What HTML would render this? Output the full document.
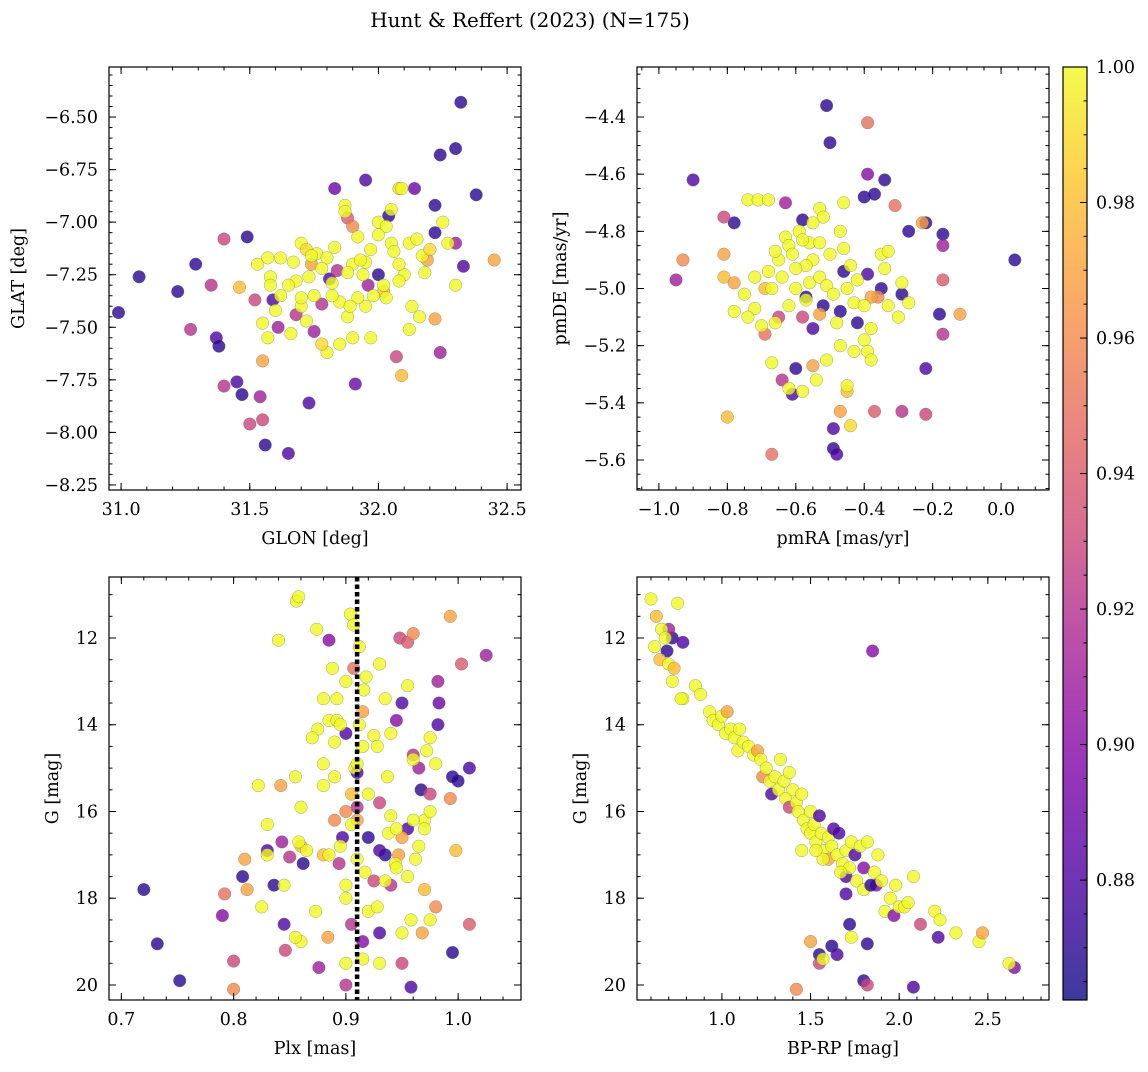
<!DOCTYPE html>
<html><head><meta charset="utf-8"><style>
body{margin:0;background:#fff}
svg{font-family:"DejaVu Serif","Liberation Serif",serif}
</style></head><body>
<svg id="fig" width="1148" height="1067" viewBox="0 0 1148 1067">
<defs><linearGradient id="plasma" x1="0" y1="1" x2="0" y2="0">
<stop offset="0" stop-color="#0d0887"/><stop offset="0.13" stop-color="#4c02a1"/><stop offset="0.25" stop-color="#7e03a8"/><stop offset="0.38" stop-color="#a82296"/><stop offset="0.5" stop-color="#cc4778"/><stop offset="0.63" stop-color="#e66c5c"/><stop offset="0.75" stop-color="#f89540"/><stop offset="0.88" stop-color="#fdc527"/><stop offset="1" stop-color="#f0f921"/></linearGradient></defs>
<text x="530" y="27" text-anchor="middle" font-size="20">Hunt &amp; Reffert (2023) (N=175)</text>
</svg>
<script>
// Panel 1: GLON/GLAT [x, y, prob]
const skyPts = [[30.99,-7.43,0.87],[31.07,-7.26,0.87],[31.22,-7.33,0.87],[31.29,-7.20,0.87],[31.37,-7.55,0.88],[31.38,-7.59,0.87],[31.49,-7.07,0.87],[31.45,-7.76,0.88],[31.47,-7.82,0.87],[31.56,-8.06,0.87],[31.65,-8.10,0.88],[31.73,-7.86,0.88],[31.91,-7.77,0.89],[31.95,-6.80,0.88],[31.83,-6.84,0.89],[32.32,-6.43,0.87],[32.30,-6.65,0.87],[32.24,-6.68,0.87],[32.38,-6.87,0.87],[32.33,-7.21,0.88],[32.22,-7.05,0.87],[32.04,-6.97,0.87],[31.81,-7.27,0.88],[32.14,-6.84,0.89],[32.0,-7.25,0.87],[31.59,-7.37,0.88],[32.22,-6.92,0.87],
[31.40,-7.08,0.93],[31.35,-7.30,0.92],[31.27,-7.51,0.92],[31.40,-7.78,0.92],[31.50,-7.96,0.93],[31.54,-7.83,0.91],[31.55,-7.94,0.93],[31.52,-7.37,0.93],[31.61,-7.50,0.91],[31.75,-7.52,0.91],[31.78,-7.39,0.92],[31.88,-6.98,0.94],[31.96,-7.30,0.91],[32.07,-7.64,0.93],[32.24,-7.62,0.91],[32.30,-7.10,0.91],[31.84,-7.23,0.92],[31.68,-7.44,0.92],
[31.55,-7.66,0.97],[31.46,-7.31,0.98],[32.45,-7.18,0.97],[32.09,-7.73,0.98],[32.22,-7.46,0.97],[31.90,-7.02,0.96],[31.74,-7.20,0.97],[32.19,-7.18,0.97],[32.02,-7.33,0.98],
[31.57,-7.17,1],[31.62,-7.17,1],[31.58,-7.26,1],[31.67,-7.19,1],[31.70,-7.10,1],[31.72,-7.13,0.99],[31.76,-7.15,1],[31.80,-7.17,1],[31.83,-7.12,1],[31.87,-6.92,1],[31.87,-6.95,1],[31.92,-7.07,1],[31.90,-7.20,1],[31.94,-7.25,1],[31.97,-7.13,1],[32.00,-7.00,1],[32.03,-7.02,1],[32.05,-6.94,1],[32.08,-6.84,0.99],[32.09,-6.84,1],[32.12,-7.10,1],[32.15,-7.08,1],[32.17,-7.16,1],[32.20,-7.13,0.99],[32.25,-7.00,1],[32.27,-7.10,1],[32.30,-7.30,1],[32.10,-7.25,1],[32.08,-7.20,1],[32.05,-7.10,1],[32.02,-7.30,1],[31.98,-7.35,1],[31.95,-7.40,1],[31.92,-7.36,1],[31.88,-7.45,1],[31.85,-7.38,1],[31.82,-7.35,1],[31.80,-7.62,1],[31.78,-7.58,0.99],[31.75,-7.35,1],[31.72,-7.47,1],[31.70,-7.40,1],[31.68,-7.28,1],[31.65,-7.30,1],[31.62,-7.35,1],[31.60,-7.42,1],[31.57,-7.55,1],[31.55,-7.48,1],[31.53,-7.20,1],[31.58,-7.30,1],[31.90,-7.55,1],[31.85,-7.58,1],[31.95,-7.19,1],[32.00,-7.06,1],[32.06,-7.14,1],[32.18,-7.24,1],[32.13,-7.40,1],[32.16,-7.45,1],[32.08,-7.28,1],[32.12,-7.51,1],[31.97,-7.55,1],[31.88,-7.24,1],[31.82,-7.29,1],[31.78,-7.22,1],[31.73,-7.26,1],[31.66,-7.53,1],[31.70,-7.36,1],[31.93,-7.18,1],[32.03,-7.36,1],[31.89,-7.40,1],[31.74,-7.16,1]];
// Panel 2: pmRA/pmDE [x, y, prob]
const pmPts = [[-0.51,-4.36,0.87],[-0.50,-4.49,0.87],[-0.90,-4.62,0.88],[-0.78,-4.77,0.87],[-0.58,-4.76,0.87],[-0.40,-4.68,0.87],[-0.37,-4.67,0.87],[-0.34,-4.62,0.87],[-0.22,-4.77,0.87],[-0.27,-4.80,0.87],[-0.17,-4.81,0.87],[0.04,-4.90,0.87],[-0.60,-5.28,0.87],[-0.61,-5.37,0.88],[-0.57,-5.03,0.87],[-0.52,-5.06,0.87],[-0.46,-4.94,0.87],[-0.47,-5.08,0.87],[-0.39,-4.95,0.88],[-0.35,-5.00,0.87],[-0.29,-5.02,0.87],[-0.18,-5.09,0.87],[-0.22,-5.28,0.88],[-0.49,-5.49,0.88],[-0.49,-5.56,0.87],[-0.48,-5.58,0.88],[-0.42,-5.12,0.87],[-0.55,-5.14,0.88],
[-0.95,-4.97,0.91],[-0.81,-4.75,0.93],[-0.63,-4.70,0.91],[-0.39,-4.60,0.90],[-0.17,-4.85,0.91],[-0.17,-4.97,0.94],[-0.17,-5.16,0.92],[-0.64,-5.32,0.92],[-0.58,-5.10,0.93],[-0.29,-5.43,0.92],[-0.22,-5.44,0.93],[-0.67,-5.58,0.95],[-0.37,-5.43,0.94],[-0.65,-5.10,0.93],
[-0.39,-4.42,0.95],[-0.93,-4.90,0.96],[-0.81,-4.88,0.97],[-0.81,-4.96,0.98],[-0.78,-4.98,0.97],[-0.80,-5.45,0.98],[-0.69,-5.16,0.95],[-0.55,-5.27,0.97],[-0.47,-5.43,0.97],[-0.36,-5.03,0.96],[-0.38,-5.03,0.97],[-0.23,-4.77,0.97],[-0.31,-4.71,0.95],[-0.12,-5.09,0.97],[-0.45,-5.36,0.98],[-0.53,-5.09,0.97],[-0.69,-5.00,0.98],
[-0.74,-4.69,1],[-0.71,-4.69,1],[-0.68,-4.69,1],[-0.63,-4.82,1],[-0.62,-4.85,1],[-0.59,-4.80,1],[-0.56,-4.84,1],[-0.53,-4.72,1],[-0.52,-4.75,1],[-0.46,-4.70,1],[-0.47,-4.80,1],[-0.50,-4.88,1],[-0.55,-4.90,1],[-0.57,-4.92,1],[-0.60,-4.93,1],[-0.65,-4.90,1],[-0.68,-4.94,1],[-0.72,-4.96,1],[-0.75,-5.02,1],[-0.72,-5.07,1],[-0.74,-5.10,1],[-0.70,-5.13,1],[-0.66,-5.12,1],[-0.62,-5.06,1],[-0.60,-5.00,1],[-0.56,-4.98,1],[-0.53,-4.96,1],[-0.51,-4.99,1],[-0.49,-5.02,1],[-0.45,-5.00,1],[-0.43,-5.05,1],[-0.40,-5.06,1],[-0.38,-5.14,1],[-0.40,-5.18,1],[-0.43,-5.22,1],[-0.47,-5.20,1],[-0.51,-5.25,1],[-0.54,-5.32,1],[-0.58,-5.36,1],[-0.62,-5.35,1],[-0.67,-5.26,1],[-0.45,-5.34,1],[-0.39,-5.22,1],[-0.38,-5.25,1],[-0.35,-4.88,1],[-0.34,-4.93,1],[-0.33,-5.06,1],[-0.30,-5.10,1],[-0.27,-5.05,1],[-0.29,-4.98,1],[-0.33,-4.87,1],[-0.42,-4.97,1],[-0.46,-4.86,1],[-0.64,-4.96,1],[-0.58,-4.83,1],[-0.55,-4.77,1],[-0.61,-4.88,1],[-0.53,-4.84,1],[-0.57,-5.04,1],[-0.48,-5.12,1],[-0.44,-4.92,1],[-0.67,-5.00,1],[-0.78,-5.08,1],[-0.66,-4.87,1],[-0.44,-5.48,0.99]];
// Panel 3: Plx/G [x, y, prob]
const plxPts = [[0.72,17.8,0.87],[0.732,19.05,0.87],[0.752,19.9,0.87],[0.808,17.5,0.87],[0.83,16.9,0.88],[0.836,17.7,0.87],[0.845,18.6,0.88],[0.862,17.2,0.87],[0.92,16.6,0.87],[0.897,16.6,0.88],[0.967,15.5,0.87],[0.955,16.4,0.88],[0.995,19.25,0.87],[1.0,15.3,0.87],[0.995,15.2,0.87],[1.01,15.0,0.88],[0.982,14.0,0.88],[0.983,13.5,0.89],[0.95,13.5,0.88],[0.93,18.8,0.88],[0.958,20.05,0.88],[0.9,14.2,0.88],[0.91,15.1,0.88],[0.935,17.0,0.87],[0.93,16.9,0.88],
[0.79,18.4,0.90],[0.80,19.45,0.93],[0.843,16.7,0.91],[0.85,17.05,0.92],[0.846,19.2,0.93],[0.876,19.6,0.91],[0.885,12.05,0.90],[0.894,17.2,0.92],[0.9,20.0,0.92],[0.945,13.9,0.90],[0.948,12.0,0.93],[0.96,14.7,0.92],[0.925,17.6,0.93],[0.915,19.0,0.90],[0.982,13.0,0.91],[1.025,12.4,0.91],[1.01,18.6,0.94],[1.003,12.6,0.94],[0.95,19.5,0.93],[0.905,18.6,0.92],[0.965,15.0,0.91],[0.975,15.6,0.93],[0.91,15.9,0.92],[0.93,15.8,0.93],[0.955,12.1,0.94],[0.94,17.7,0.92],
[0.792,17.9,0.95],[0.80,20.1,0.96],[0.81,17.1,0.97],[0.812,17.8,0.97],[0.842,15.4,0.97],[0.884,18.9,0.97],[0.907,12.7,0.95],[0.9,16.0,0.96],[0.89,16.2,0.96],[0.915,13.7,0.97],[0.96,11.9,0.96],[0.968,18.8,0.97],[0.993,11.5,0.97],[0.998,16.9,0.98],[0.98,18.2,0.96],[0.993,15.7,0.96],[0.97,17.8,0.98],[0.947,17.0,0.97],[0.95,16.6,0.97],[0.91,16.2,0.97],[0.905,15.6,0.98],[0.88,17.0,0.98],[0.86,16.8,0.98],
[0.856,11.15,1],[0.858,11.05,1],[0.84,12.05,1],[0.874,11.8,1],[0.888,12.7,1],[0.904,11.45,1],[0.907,11.7,1],[0.912,12.2,1],[0.916,13.2,1],[0.918,12.9,1],[0.93,12.6,1],[0.955,13.1,1],[0.935,13.4,1],[0.892,13.4,1],[0.88,13.4,1],[0.885,13.9,1],[0.892,13.9,1],[0.875,14.1,1],[0.88,14.9,1],[0.89,14.4,1],[0.908,15.0,1],[0.915,14.5,1],[0.925,14.25,1],[0.928,14.5,1],[0.91,14.9,1],[0.937,15.2,1],[0.94,14.2,1],[0.94,16.1,1],[0.938,16.5,1],[0.96,14.8,1],[0.972,14.6,1],[0.975,14.3,1],[0.97,16.2,1],[0.96,16.2,1],[0.965,16.8,1],[0.962,17.1,1],[0.955,17.5,1],[0.944,17.2,1],[0.945,17.3,1],[0.958,18.5,1],[0.975,18.5,1],[0.95,18.8,1],[0.93,19.5,1],[0.915,19.4,1],[0.9,19.5,1],[0.9,18.0,1],[0.9,17.7,1],[0.895,16.8,1],[0.905,16.3,1],[0.88,15.4,1],[0.89,15.2,1],[0.86,15.9,1],[0.855,15.2,1],[0.87,14.3,1],[0.865,16.9,1],[0.858,16.7,1],[0.83,16.3,1],[0.825,18.2,1],[0.86,19.0,1],[0.855,18.9,1],[0.873,18.3,1],[0.885,17.0,1],[0.91,17.1,1],[0.917,17.4,1],[0.92,18.3,1],[0.928,18.2,1],[0.822,15.4,1],[0.845,17.7,1],[0.83,17.0,1],[0.97,16.4,1],[0.975,16.0,1],[0.98,14.9,1],[0.92,15.6,1],[0.895,14.0,1],[0.9,13.0,1],[0.912,14.0,1],[0.935,17.6,1],[0.945,16.4,1]];
const plxMean = [0.910];
// Panel 4: BP-RP/G [x, y, prob]
const cmdPts = [[1.85,12.3,0.90],[1.87,17.7,0.90],[1.72,18.6,0.87],[1.55,19.3,0.87],[1.62,19.1,0.87],[1.65,19.3,0.88],[1.55,19.5,0.93],[1.82,19.05,0.87],[1.8,19.9,0.87],[1.82,20.0,0.93],[2.08,20.05,0.88],[1.5,19.0,0.97],[1.42,20.1,0.96],[1.57,19.4,1],[1.73,18.9,1],[2.65,19.6,0.90],[2.62,19.5,1],[0.72,12.0,0.87],[0.78,12.1,0.88],[0.69,12.3,0.87],[0.70,11.8,0.91],
[0.60,11.1,1],[0.63,11.5,0.98],[0.66,11.8,1],[0.62,12.2,1],[0.65,12.5,0.98],[0.68,12.0,1],[0.70,12.6,1],[0.73,12.7,0.98],[0.72,13.0,1],[0.75,11.2,1],[0.78,13.4,1],[0.77,13.4,1],[0.85,13.1,1],[0.88,13.3,1],[0.93,13.7,1],[0.95,13.9,1],[0.98,14.0,1],[1.0,13.8,1],[1.02,14.2,1],[1.03,13.7,0.97],[1.05,14.1,1],[1.07,14.3,1],[1.09,14.6,1],[1.1,14.1,1],[1.12,14.4,1],[1.15,14.5,1],[1.18,14.7,1],[1.2,14.6,0.97],[1.22,14.8,1],[1.23,15.2,0.96],[1.25,15.0,1],[1.27,15.3,1],[1.28,15.6,0.88],[1.3,15.2,1],[1.32,15.5,1],[1.33,14.8,1],[1.35,15.3,1],[1.36,15.7,1],[1.38,15.9,0.93],[1.38,15.1,1],[1.4,15.5,1],[1.42,15.8,1],[1.43,16.0,1],[1.45,15.6,1],[1.46,16.2,1],[1.48,16.4,1],[1.5,16.0,1],[1.5,16.5,1],[1.52,16.3,1],[1.53,16.7,1],[1.55,16.1,0.88],[1.56,16.5,1],[1.58,16.9,1],[1.6,16.6,1],[1.6,17.1,0.97],[1.62,16.8,1],[1.63,16.4,0.88],[1.65,17.0,1],[1.66,16.5,0.88],[1.68,17.2,1],[1.7,17.5,0.88],[1.7,16.9,1],[1.72,17.3,1],[1.73,16.7,1],[1.75,17.0,0.88],[1.76,17.6,1],[1.78,16.8,1],[1.8,17.3,0.90],[1.8,17.8,1],[1.82,16.7,1],[1.84,17.7,0.87],[1.86,17.4,1],[1.88,17.0,1],[1.9,17.6,1],[1.92,18.3,1],[1.95,18.0,1],[1.97,18.4,0.90],[1.98,17.7,1],[2.0,18.2,1],[2.03,18.2,1],[2.05,18.1,1],[2.08,17.5,1],[2.12,18.6,0.93],[2.2,18.3,1],[2.23,18.5,1],[2.22,18.9,0.88],[2.32,18.8,1],[2.45,19.0,1],[2.47,18.8,0.97],[1.45,16.9,1],[1.57,17.1,1],[1.67,17.4,1],[1.53,16.9,1],[1.7,17.9,0.88]];
// Colorbar
const cbTicks = [0.88,0.90,0.92,0.94,0.96,0.98,1.00];
const cbMin = 0.8623, cbMax = 1.0;

const svg = document.getElementById('fig');
const NS = 'http://www.w3.org/2000/svg';
const FS = 17.5;
function mk(tag, attrs, parent){const e=document.createElementNS(NS,tag);for(const k in attrs)e.setAttribute(k,attrs[k]);(parent||svg).appendChild(e);return e;}
const stops=[[0,[13,8,135]],[0.13,[76,2,161]],[0.25,[126,3,168]],[0.38,[168,34,150]],[0.5,[204,71,120]],[0.63,[230,108,92]],[0.75,[248,149,64]],[0.88,[253,197,39]],[1,[240,249,33]]];
function plasma(p){let t=(p-cbMin)/(cbMax-cbMin);t=Math.max(0,Math.min(1,t));for(let i=1;i<stops.length;i++){if(t<=stops[i][0]){const a=stops[i-1],b=stops[i],f=(t-a[0])/(b[0]-a[0]);return 'rgb('+a[1].map((v,j)=>Math.round(v+(b[1][j]-v)*f)).join(',')+')';}}return 'rgb(240,249,33)';}

function panel(cfg){
  const {x0,x1,y0,y1,xmin,xmax,ymin,ymax,pts,xmaj,xmin_,ymaj,ymin_,xfmt,yfmt,xlabel,ylabel,ylx,name}=cfg;
  const g=mk('g',{});
  
  
  const sx=v=>x0+(v-xmin)/(xmax-xmin)*(x1-x0);
  const sy=v=>y0+(v-ymax)/(ymin-ymax)*(y1-y0);
  const pg=mk('g',{},g);
  
  
  pts.forEach(p=>{const c=mk('circle',{cx:sx(p[0]).toFixed(1),cy:sy(p[1]).toFixed(1),r:6.3,fill:plasma(p[2]),'fill-opacity':0.8,stroke:'#666','stroke-width':0.5,'stroke-opacity':0.6},pg);
    
    });
  if(cfg.vline){const l=mk('line',{x1:sx(cfg.vline),x2:sx(cfg.vline),y1:y0,y2:y1,stroke:'#000','stroke-width':4.5,'stroke-dasharray':'4.5,3'},g);
    
    }
  const fr=mk('rect',{x:x0,y:y0,width:x1-x0,height:y1-y0,fill:'none',stroke:'#000','stroke-width':1.2},g);
  
  
  const lo=Math.min(ymin,ymax),hi=Math.max(ymin,ymax);
  function ticks(step,a,b){const r=[];const s=Math.ceil(a/step-1e-6);for(let i=s;i*step<=b+1e-9;i++)r.push(+(i*step).toFixed(6));return r;}
  ticks(xmin_,xmin,xmax).forEach(v=>{const X=sx(v);mk('line',{x1:X,x2:X,y1:y1,y2:y1-3.5,stroke:'#000'},g);mk('line',{x1:X,x2:X,y1:y0,y2:y0+3.5,stroke:'#000'},g);});
  ticks(xmaj,xmin,xmax).forEach(v=>{const X=sx(v);mk('line',{x1:X,x2:X,y1:y1,y2:y1-7,stroke:'#000'},g);mk('line',{x1:X,x2:X,y1:y0,y2:y0+7,stroke:'#000'},g);
    const t=mk('text',{x:X,y:y1+25,'text-anchor':'middle','font-size':FS},g);t.textContent=xfmt(v);
    
    });
  ticks(ymin_,lo,hi).forEach(v=>{const Y=sy(v);mk('line',{x1:x0,x2:x0+3.5,y1:Y,y2:Y,stroke:'#000'},g);mk('line',{x1:x1,x2:x1-3.5,y1:Y,y2:Y,stroke:'#000'},g);});
  ticks(ymaj,lo,hi).forEach(v=>{const Y=sy(v);mk('line',{x1:x0,x2:x0+7,y1:Y,y2:Y,stroke:'#000'},g);mk('line',{x1:x1,x2:x1-7,y1:Y,y2:Y,stroke:'#000'},g);
    const t=mk('text',{x:x0-11,y:Y+6,'text-anchor':'end','font-size':FS},g);t.textContent=yfmt(v);
    
    });
  const xl=mk('text',{x:(x0+x1)/2,y:y1+54,'text-anchor':'middle','font-size':FS},g);xl.textContent=xlabel;
  
  
  const yl=mk('text',{x:ylx,y:(y0+y1)/2,'text-anchor':'middle','font-size':FS,transform:`rotate(-90 ${ylx} ${(y0+y1)/2})`},g);yl.textContent=ylabel;
  
  
}
const neg=s=>s.replace('-','\u2212');
panel({name:'sky-panel',x0:109,x1:521,y0:67,y1:490,xmin:30.953,xmax:32.554,ymin:-8.274,ymax:-6.262,pts:skyPts,xmaj:0.5,xmin_:0.1,ymaj:0.25,ymin_:0.05,xfmt:v=>v.toFixed(1),yfmt:v=>neg(v.toFixed(2)),xlabel:'GLON [deg]',ylabel:'GLAT [deg]',ylx:24});
panel({name:'pm-panel',x0:637,x1:1049,y0:67,y1:490,xmin:-1.064,xmax:0.140,ymin:-5.705,ymax:-4.225,pts:pmPts,xmaj:0.2,xmin_:0.05,ymaj:0.2,ymin_:0.05,xfmt:v=>neg(v.toFixed(1)),yfmt:v=>neg(v.toFixed(1)),xlabel:'pmRA [mas/yr]',ylabel:'pmDE [mas/yr]',ylx:566});
panel({name:'plx-panel',x0:109,x1:521,y0:577,y1:1000,xmin:0.689,xmax:1.056,ymin:20.346,ymax:10.594,pts:plxPts,xmaj:0.1,xmin_:0.02,ymaj:2,ymin_:0.5,xfmt:v=>v.toFixed(1),yfmt:v=>v.toFixed(0),xlabel:'Plx [mas]',ylabel:'G [mag]',ylx:58,vline:plxMean[0]});
panel({name:'cmd-panel',x0:637,x1:1049,y0:577,y1:1000,xmin:0.521,xmax:2.845,ymin:20.346,ymax:10.594,pts:cmdPts,xmaj:0.5,xmin_:0.1,ymaj:2,ymin_:0.5,xfmt:v=>v.toFixed(1),yfmt:v=>v.toFixed(0),xlabel:'BP-RP [mag]',ylabel:'G [mag]',ylx:586});
// colorbar
const cb=mk('g',{});


const cy0=67,cy1=1000,cx0=1063,cx1=1087;
const cs=v=>cy1-(v-cbMin)/(cbMax-cbMin)*(cy1-cy0);
mk('rect',{x:cx0,y:cy0,width:cx1-cx0,height:cy1-cy0,fill:'url(#plasma)','fill-opacity':0.8},cb);
mk('rect',{x:cx0,y:cy0,width:cx1-cx0,height:cy1-cy0,fill:'none',stroke:'#000','stroke-width':1.2},cb);
for(let v=0.865;v<=1.0001;v+=0.005){const Y=cs(v);mk('line',{x1:cx1,x2:cx1-3.5,y1:Y,y2:Y,stroke:'#000'},cb);}
cbTicks.forEach(v=>{const Y=cs(v);mk('line',{x1:cx1,x2:cx1-7,y1:Y,y2:Y,stroke:'#000'},cb);
  const t=mk('text',{x:cx1+9,y:Y+6,'font-size':FS},cb);t.textContent=v.toFixed(2);
  
  });
</script>
</body></html>
